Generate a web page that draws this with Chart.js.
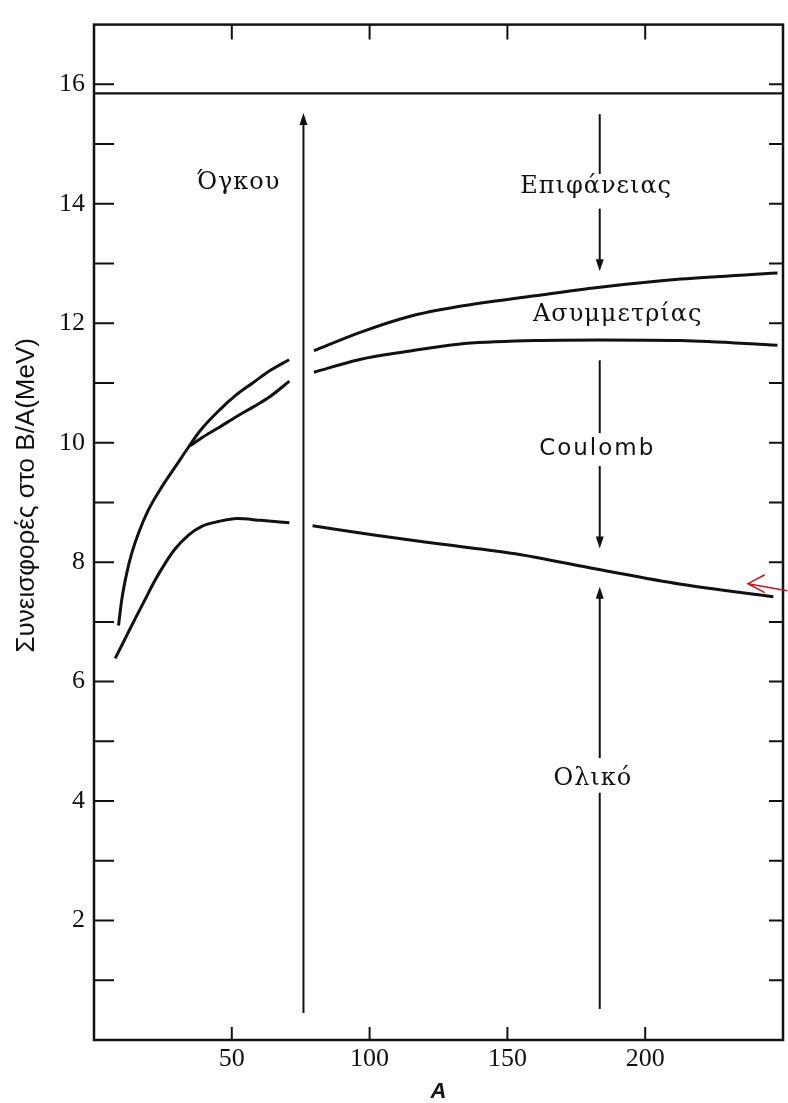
<!DOCTYPE html>
<html>
<head>
<meta charset="utf-8">
<script src="https://cdn.jsdelivr.net/npm/chart.js@4.4.1/dist/chart.umd.min.js"></script>
<style>
  html, body { margin: 0; padding: 0; background: #fff; }
  canvas { display: block; }
</style>
</head>
<body>
<canvas id="chart" width="788" height="1103"></canvas>
<script>
// Values: A (mass number) vs contribution to B/A in MeV.
// null marks the break where the curves stop around the volume arrow.
const surfaceA = [8.9, 10.1, 11.9, 13.7, 16.1, 19.7, 24.6, 29.4, 34.2, 38.5, 45.6, 51.6, 57.6, 63.6, 70.8, null, 79.8, 96.1, 114.1, 132.2, 160, 182.8, 213, 248];
const surfaceB = [6.94, 7.38, 7.82, 8.15, 8.48, 8.87, 9.26, 9.59, 9.92, 10.2, 10.55, 10.8, 11.0, 11.2, 11.39, null, 11.54, 11.84, 12.11, 12.28, 12.46, 12.6, 12.74, 12.84];

const asymmetryA = [34.9, 39.7, 45.5, 51.8, 57.8, 63.8, 70.9, null, 79.8, 96.1, 114.1, 132.2, 160, 182.8, 213, 248];
const asymmetryB = [9.95, 10.1, 10.26, 10.44, 10.6, 10.77, 11.03, null, 11.18, 11.39, 11.53, 11.65, 11.71, 11.72, 11.71, 11.63];

const totalA = [7.7, 11.3, 14.9, 18.6, 22.2, 25.8, 29.4, 34.2, 39.1, 45.1, 52.0, 60.5, 70.9, null, 79.3, 102.2, 126.4, 152.8, 182.8, 213, 246.5];
const totalB = [6.39, 6.72, 7.05, 7.38, 7.7, 7.98, 8.22, 8.45, 8.6, 8.68, 8.73, 8.7, 8.66, null, 8.61, 8.45, 8.3, 8.14, 7.88, 7.63, 7.42];

const volumeLevel = 15.85;

// arrows: [A, from B, to B]; the second piece of each pair carries the head
const volumeArrow = [76, 0.45, 15.52];
const surfaceArrow = [[183.5, 15.5, 14.5], [183.5, 13.92, 12.87]];
const coulombArrow = [[183.5, 11.38, 10.16], [183.5, 9.61, 8.23]];
const totalArrow = [[183.5, 0.52, 4.14], [183.5, 4.72, 7.59]];

const labelText = ['Όγκου', 'Επιφάνειας', 'Ασυμμετρίας', 'Coulomb', 'Ολικό'];
const labelA = [52.5, 182.2, 190, 182.6, 181];
const labelB = [14.35, 14.28, 12.15, 9.9, 4.38];

// red pointer added on top of the scan
const redTip = [237.3, 7.64];
const redTail = [251.5, 7.52];

const xTickValues = [50, 100, 150, 200];
const yTickValues = [2, 4, 6, 8, 10, 12, 14, 16];

const yTitle = 'Συνεισφορές στο B/A(MeV)';
const xTitle = 'A';

function toPoints(xs, ys) {
    return xs.map((x, i) => ({ x: x, y: ys[i] }));
}

function curve(xs, ys) {
    return {
        data: toPoints(xs, ys),
        showLine: true,
        borderColor: '#111',
        borderWidth: 3,
        pointRadius: 0,
        tension: 0.4,
        cubicInterpolationMode: 'monotone',
        spanGaps: false
    };
}

const INK = '#111';

const figurePlugin = {
    id: 'figure',
    afterDraw(chart) {
        const ctx = chart.ctx;
        const area = chart.chartArea;
        const xs = chart.scales.x;
        const ys = chart.scales.y;
        const px = v => xs.getPixelForValue(v);
        const py = v => ys.getPixelForValue(v);

        ctx.save();
        ctx.strokeStyle = INK;
        ctx.fillStyle = INK;

        // frame
        ctx.lineWidth = 2.5;
        ctx.strokeRect(area.left, area.top, area.right - area.left, area.bottom - area.top);

        // inward ticks
        ctx.lineWidth = 2;
        ctx.beginPath();
        ys.ticks.forEach(t => {
            if (t.value <= ys.min || t.value >= ys.max) return;
            const y = py(t.value);
            ctx.moveTo(area.left, y); ctx.lineTo(area.left + 20, y);
            ctx.moveTo(area.right, y); ctx.lineTo(area.right - 14, y);
        });
        xs.ticks.forEach(t => {
            if (t.value <= xs.min || t.value >= xs.max) return;
            const x = px(t.value);
            ctx.moveTo(x, area.bottom); ctx.lineTo(x, area.bottom - 13);
            ctx.moveTo(x, area.top); ctx.lineTo(x, area.top + 15);
        });
        ctx.stroke();

        // volume term level
        ctx.lineWidth = 2.2;
        ctx.beginPath();
        ctx.moveTo(area.left, py(volumeLevel));
        ctx.lineTo(area.right, py(volumeLevel));
        ctx.stroke();

        const shaft = (a, b0, b1, head) => {
            const x = px(a), y0 = py(b0), y1 = py(b1);
            ctx.lineWidth = 2;
            ctx.beginPath();
            ctx.moveTo(x, y0);
            ctx.lineTo(x, head ? y1 + Math.sign(y0 - y1) * 8 : y1);
            ctx.stroke();
            if (head) {
                const d = Math.sign(y0 - y1);
                ctx.beginPath();
                ctx.moveTo(x, y1);
                ctx.lineTo(x - 4, y1 + d * 12);
                ctx.lineTo(x + 4, y1 + d * 12);
                ctx.closePath();
                ctx.fill();
            }
        };
        shaft(volumeArrow[0], volumeArrow[1], volumeArrow[2], true);
        [surfaceArrow, coulombArrow, totalArrow].forEach(pair => {
            shaft(pair[0][0], pair[0][1], pair[0][2], false);
            shaft(pair[1][0], pair[1][1], pair[1][2], true);
        });

        // term labels
        ctx.textAlign = 'center';
        ctx.textBaseline = 'middle';
        labelText.forEach((txt, i) => {
            if (txt === 'Coulomb') {
                ctx.font = '23px "DejaVu Sans"';
                ctx.letterSpacing = '2px';
            } else {
                ctx.font = '24px "DejaVu Serif"';
                ctx.letterSpacing = '1px';
            }
            ctx.fillText(txt, px(labelA[i]), py(labelB[i]));
        });
        ctx.letterSpacing = '0px';

        // y title
        ctx.save();
        ctx.translate(27, py(9.12));
        ctx.rotate(-Math.PI / 2);
        ctx.font = '26px "Liberation Sans"';
        ctx.fillText(yTitle, 0, 0);
        ctx.restore();

        // red pointer
        ctx.save();
        const tx = px(redTip[0]), ty = py(redTip[1]);
        ctx.strokeStyle = '#c8161e';
        ctx.lineWidth = 1.6;
        ctx.beginPath();
        ctx.moveTo(px(redTail[0]), py(redTail[1]));
        ctx.lineTo(tx, ty);
        const ang = 28 * Math.PI / 180;
        ctx.moveTo(tx + 19 * Math.cos(ang), ty - 19 * Math.sin(ang));
        ctx.lineTo(tx, ty);
        ctx.lineTo(tx + 19 * Math.cos(ang), ty + 19 * Math.sin(ang));
        ctx.stroke();
        ctx.restore();

        ctx.restore();
    }
};

new Chart(document.getElementById('chart'), {
    type: 'scatter',
    data: {
        datasets: [
            curve(surfaceA, surfaceB),
            curve(asymmetryA, asymmetryB),
            curve(totalA, totalB)
        ]
    },
    options: {
        responsive: false,
        animation: false,
        devicePixelRatio: 1,
        layout: { padding: { left: 0, right: 5, top: 15, bottom: 0 } },
        scales: {
            x: {
                type: 'linear',
                min: 0,
                max: 250,
                grid: { display: false, drawTicks: false },
                border: { display: false },
                ticks: {
                    stepSize: 50,
                    padding: 4,
                    color: INK,
                    font: { family: '"Liberation Serif"', size: 26 },
                    callback: v => xTickValues.includes(v) ? String(v) : ''
                },
                title: {
                    display: true,
                    text: xTitle,
                    color: INK,
                    padding: { top: 0, bottom: 0 },
                    font: { family: '"Liberation Sans"', size: 22, style: 'italic', weight: 'bold', lineHeight: 1 }
                },
                afterFit: scale => { scale.height = 63; }
            },
            y: {
                type: 'linear',
                min: 0,
                max: 17,
                grid: { display: false, drawTicks: false },
                border: { display: false },
                ticks: {
                    stepSize: 1,
                    padding: 9,
                    color: INK,
                    autoSkip: false,
                    font: { family: '"Liberation Serif"', size: 26 },
                    callback: v => yTickValues.includes(v) ? String(v) : ''
                },
                afterFit: scale => { scale.width = 94; }
            }
        },
        plugins: {
            legend: { display: false },
            tooltip: { enabled: false }
        }
    },
    plugins: [figurePlugin]
});
</script>
</body>
</html>
